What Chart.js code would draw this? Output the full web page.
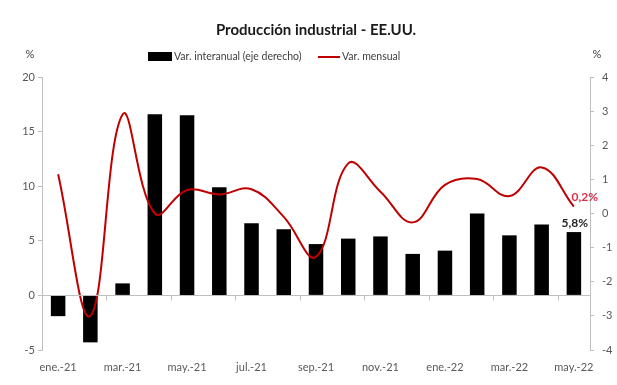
<!DOCTYPE html>
<html><head><meta charset="utf-8">
<script src="https://cdn.jsdelivr.net/npm/chart.js@4/dist/chart.umd.min.js"></script>
<style>html,body{margin:0;padding:0;background:#fff}#wrap{width:617px;height:385px;position:relative}</style>
</head><body><div id="wrap"><canvas id="c" width="617" height="385"></canvas></div>
<script>
const categories = ['ene.-21','feb.-21','mar.-21','abr.-21','may.-21','jun.-21','jul.-21','ago.-21','sep.-21','oct.-21','nov.-21','dic.-21','ene.-22','feb.-22','mar.-22','abr.-22','may.-22'];
const interanual = [-1.9,-4.3,1.1,16.6,16.5,9.9,6.6,6.05,4.7,5.2,5.4,3.8,4.1,7.5,5.5,6.5,5.8];
const mensual = [1.15,-3.0,2.9,0.0,0.69,0.56,0.71,-0.1,-1.27,1.47,0.64,-0.26,0.84,1.01,0.51,1.35,0.2];
const leftTicks = [-5,0,5,10,15,20];
const rightTicks = [-4,-3,-2,-1,0,1,2,3,4];
const titleText = 'Producción industrial - EE.UU.';
const seriesNames = ['Var. interanual (eje derecho)','Var. mensual'];

const FONT = 'Lato, "Open Sans", sans-serif';
const deco = {
  id:'deco',
  afterDraw(chart){
    const ctx = chart.ctx, x = chart.scales.x, y = chart.scales.y, ca = chart.chartArea;
    ctx.save();
    // zero line
    const y0 = Math.round(y.getPixelForValue(0)) + 0.5;
    ctx.strokeStyle = '#bfbfbf'; ctx.lineWidth = 1;
    ctx.beginPath(); ctx.moveTo(ca.left, y0); ctx.lineTo(ca.right, y0);
    for (let i = 1; i < categories.length - 1; i += 2) {
      const px = Math.round((x.getPixelForValue(i) + x.getPixelForValue(i+1))/2) + 0.5;
      ctx.moveTo(px, y0); ctx.lineTo(px, y0 + 5);
    }
    ctx.stroke();
    // title
    ctx.fillStyle = '#1a1a1a'; ctx.font = 'bold 15px ' + FONT;
    ctx.textAlign = 'center'; ctx.textBaseline = 'middle';
    ctx.fillText(titleText, 316, 30);
    // legend
    ctx.font = '10.5px ' + FONT; ctx.textAlign = 'left';
    ctx.fillStyle = '#000'; ctx.fillRect(148, 52, 24, 9);
    ctx.fillStyle = '#404040'; ctx.fillText(seriesNames[0], 174, 57);
    ctx.strokeStyle = '#c00000'; ctx.lineWidth = 2;
    ctx.beginPath(); ctx.moveTo(318, 57); ctx.lineTo(340, 57); ctx.stroke();
    ctx.fillText(seriesNames[1], 342, 57);
    // units
    ctx.font = '11px ' + FONT; ctx.fillStyle = '#404040'; ctx.textAlign = 'center';
    ctx.fillText('%', 30, 54); ctx.fillText('%', 597, 54);
    // data labels
    const n = categories.length - 1;
    const bm = chart.getDatasetMeta(0).data[n];
    ctx.font = 'bold 12px ' + FONT; ctx.fillStyle = '#262626'; ctx.textAlign = 'center';
    ctx.fillText(String(interanual[n]).replace('.', ',') + '%', bm.x + 1, bm.y - 9);
    const lm = chart.getDatasetMeta(1).data[n];
    ctx.fillStyle = '#dc2f48';
    ctx.fillText(String(mensual[n]).replace('.', ',') + '%', lm.x + 11, lm.y - 10);
    ctx.restore();
  }
};

new Chart(document.getElementById('c'), {
  data: {
    labels: categories,
    datasets: [
      { type:'bar', label: seriesNames[0], data: interanual, yAxisID:'y', backgroundColor:'#000', barPercentage:0.45, categoryPercentage:1, order:2 },
      { type:'line', label: seriesNames[1], data: mensual, yAxisID:'y1', borderColor:'#c00000', borderWidth:2, pointRadius:0, tension:0.4, fill:false, order:1 }
    ]
  },
  options: {
    responsive:false, animation:false,
    layout:{ padding:{ top:77, left:0, right:0, bottom:0 } },
    plugins:{ legend:{display:false}, title:{display:false}, tooltip:{enabled:false} },
    scales:{
      x:{ grid:{display:false}, border:{display:false},
          ticks:{ autoSkip:false, maxRotation:0, minRotation:0, padding:3, color:'#595959', font:{family:FONT,size:11},
                  callback:(v,i)=> i%2===0 ? categories[i] : '' },
          afterFit:s=>{ s.height = 35; } },
      y:{ position:'left', min:-5, max:20, afterBuildTicks:s=>{ s.ticks = leftTicks.map(v=>({value:v})); },
          grid:{ drawOnChartArea:false, drawTicks:true, tickLength:4, color:'#bfbfbf' }, border:{color:'#bfbfbf'},
          ticks:{ color:'#595959', font:{family:FONT,size:11}, padding:3 },
          afterFit:s=>{ s.width = 42; } },
      y1:{ position:'right', min:-4, max:4, afterBuildTicks:s=>{ s.ticks = rightTicks.map(v=>({value:v})); },
          grid:{ drawOnChartArea:false, drawTicks:true, tickLength:4, color:'#bfbfbf' }, border:{color:'#bfbfbf'},
          ticks:{ color:'#595959', font:{family:FONT,size:11}, padding:8 },
          afterFit:s=>{ s.width = 27; } }
    }
  },
  plugins:[deco]
});
</script></body></html>
